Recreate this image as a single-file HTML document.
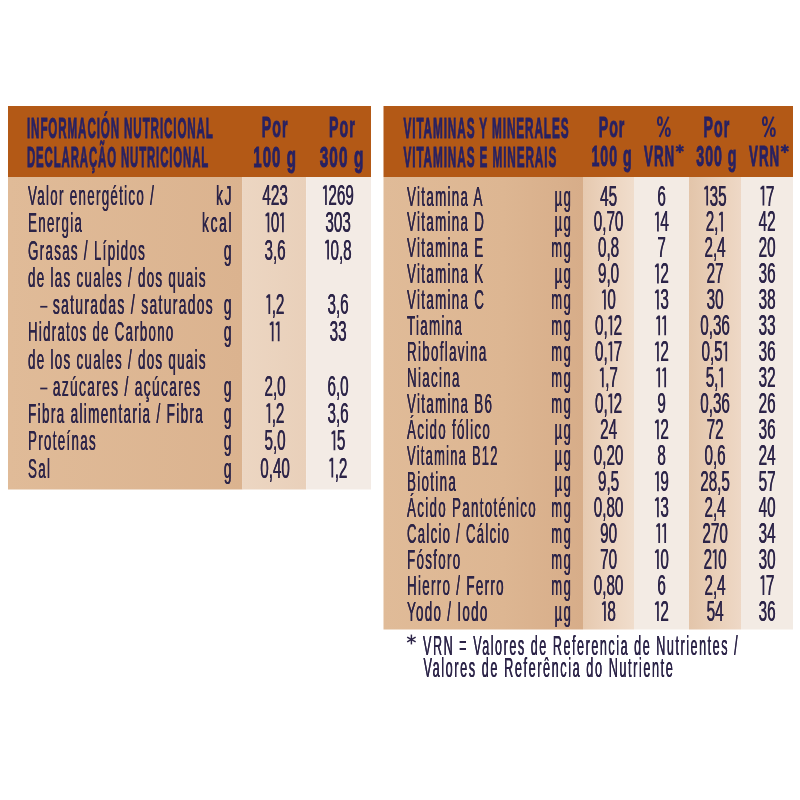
<!DOCTYPE html>
<html><head><meta charset="utf-8"><style>
html,body{margin:0;padding:0;background:#fff;width:800px;height:800px;overflow:hidden}
svg{display:block;will-change:transform}
text{font-family:"Liberation Sans",sans-serif}
</style></head><body>
<svg width="800" height="800" viewBox="0 0 800 800">
<defs>
<linearGradient id="labL" x1="0" y1="0" x2="1" y2="0"><stop offset="0" stop-color="rgb(224,187,152)"/><stop offset="1" stop-color="rgb(219,179,143)"/></linearGradient>
<linearGradient id="labR" x1="0" y1="0" x2="1" y2="0"><stop offset="0" stop-color="rgb(224,187,152)"/><stop offset="0.6" stop-color="rgb(221,182,146)"/><stop offset="1" stop-color="rgb(215,173,137)"/></linearGradient>
<linearGradient id="c1L" x1="0" y1="0" x2="1" y2="0"><stop offset="0" stop-color="rgb(236,214,194)"/><stop offset="1" stop-color="rgb(233,208,186)"/></linearGradient>
<linearGradient id="c1R" x1="0" y1="0" x2="1" y2="0"><stop offset="0" stop-color="rgb(230,201,175)"/><stop offset="0.5" stop-color="rgb(236,212,191)"/><stop offset="1" stop-color="rgb(240,221,204)"/></linearGradient>
<linearGradient id="c3R" x1="0" y1="0" x2="1" y2="0"><stop offset="0" stop-color="rgb(227,197,170)"/><stop offset="0.5" stop-color="rgb(233,207,184)"/><stop offset="1" stop-color="rgb(238,216,198)"/></linearGradient>
</defs>
<rect x="0" y="0" width="800" height="800" fill="#fff"/>
<rect x="8" y="106" width="363" height="71" fill="rgb(179,89,22)"/>
<rect x="8" y="177" width="234.5" height="312.5" fill="url(#labL)"/>
<rect x="242.5" y="177" width="63.75" height="312.5" fill="url(#c1L)"/>
<rect x="306.25" y="177" width="64.75" height="312.5" fill="rgb(243,235,229)"/>
<text transform="translate(27,138) scale(0.401,1)" text-anchor="start" font-size="29" font-weight="bold" fill="rgb(40,33,98)" stroke="rgb(40,33,98)" stroke-width="1.0" letter-spacing="2.2">INFORMACIÓN NUTRICIONAL</text>
<text transform="translate(27,167) scale(0.394,1)" text-anchor="start" font-size="29" font-weight="bold" fill="rgb(40,33,98)" stroke="rgb(40,33,98)" stroke-width="1.0" letter-spacing="2.2">DECLARAÇÃO NUTRICIONAL</text>
<text transform="translate(275.09,137) scale(0.49,1)" text-anchor="middle" font-size="29" font-weight="bold" fill="rgb(40,33,98)" stroke="rgb(40,33,98)" stroke-width="1.0" letter-spacing="2.0">Por</text>
<text transform="translate(275.12,166.5) scale(0.52,1)" text-anchor="middle" font-size="29" font-weight="bold" fill="rgb(40,33,98)" stroke="rgb(40,33,98)" stroke-width="1.0" letter-spacing="2.0">100 g</text>
<text transform="translate(342.39,137) scale(0.49,1)" text-anchor="middle" font-size="29" font-weight="bold" fill="rgb(40,33,98)" stroke="rgb(40,33,98)" stroke-width="1.0" letter-spacing="2.0">Por</text>
<text transform="translate(342.03,166.5) scale(0.53,1)" text-anchor="middle" font-size="29" font-weight="bold" fill="rgb(40,33,98)" stroke="rgb(40,33,98)" stroke-width="1.0" letter-spacing="2.0">300 g</text>
<text transform="translate(28,205.0) scale(0.485,1)" text-anchor="start" font-size="27.5" font-weight="normal" fill="rgb(44,36,72)" stroke="rgb(44,36,72)" stroke-width="0.15" letter-spacing="2.7">Valor energético /</text>
<text transform="translate(28.1,205.0) scale(0.485,1)" text-anchor="start" font-size="27.5" font-weight="normal" fill="rgb(44,36,72)" stroke="rgb(44,36,72)" stroke-width="0.15" letter-spacing="2.7">Valor energético /</text>
<text transform="translate(233.2,205.0) scale(0.5,1)" text-anchor="end" font-size="27.5" font-weight="normal" fill="rgb(44,36,72)" stroke="rgb(44,36,72)" stroke-width="0.15" letter-spacing="3.4">kJ</text>
<text transform="translate(233.3,205.0) scale(0.5,1)" text-anchor="end" font-size="27.5" font-weight="normal" fill="rgb(44,36,72)" stroke="rgb(44,36,72)" stroke-width="0.15" letter-spacing="3.4">kJ</text>
<text transform="translate(262.28,205.0) scale(0.522,1)" text-anchor="start" font-size="29.2" font-weight="normal" fill="rgb(44,36,72)" stroke="rgb(44,36,72)" stroke-width="0.12">423</text>
<text transform="translate(262.43,205.0) scale(0.522,1)" text-anchor="start" font-size="29.2" font-weight="normal" fill="rgb(44,36,72)" stroke="rgb(44,36,72)" stroke-width="0.12">423</text>
<polygon fill="rgb(44,36,72)" points="324.88,185.20 326.83,185.20 326.83,205.00 325.08,205.00 325.08,188.40 323.28,189.20 322.78,187.60"/>
<text transform="translate(328.28,205.0) scale(0.522,1)" text-anchor="start" font-size="29.2" font-weight="normal" fill="rgb(44,36,72)" stroke="rgb(44,36,72)" stroke-width="0.12">269</text>
<text transform="translate(328.43,205.0) scale(0.522,1)" text-anchor="start" font-size="29.2" font-weight="normal" fill="rgb(44,36,72)" stroke="rgb(44,36,72)" stroke-width="0.12">269</text>
<text transform="translate(28,232.25) scale(0.485,1)" text-anchor="start" font-size="27.5" font-weight="normal" fill="rgb(44,36,72)" stroke="rgb(44,36,72)" stroke-width="0.15" letter-spacing="2.7">Energia</text>
<text transform="translate(28.1,232.25) scale(0.485,1)" text-anchor="start" font-size="27.5" font-weight="normal" fill="rgb(44,36,72)" stroke="rgb(44,36,72)" stroke-width="0.15" letter-spacing="2.7">Energia</text>
<text transform="translate(233.2,232.25) scale(0.5,1)" text-anchor="end" font-size="27.5" font-weight="normal" fill="rgb(44,36,72)" stroke="rgb(44,36,72)" stroke-width="0.15" letter-spacing="3.4">kcal</text>
<text transform="translate(233.3,232.25) scale(0.5,1)" text-anchor="end" font-size="27.5" font-weight="normal" fill="rgb(44,36,72)" stroke="rgb(44,36,72)" stroke-width="0.15" letter-spacing="3.4">kcal</text>
<polygon fill="rgb(44,36,72)" points="267.36,212.45 269.31,212.45 269.31,232.25 267.56,232.25 267.56,215.65 265.76,216.45 265.26,214.85"/>
<text transform="translate(270.76,232.25) scale(0.522,1)" text-anchor="start" font-size="29.2" font-weight="normal" fill="rgb(44,36,72)" stroke="rgb(44,36,72)" stroke-width="0.12">0</text>
<text transform="translate(270.91,232.25) scale(0.522,1)" text-anchor="start" font-size="29.2" font-weight="normal" fill="rgb(44,36,72)" stroke="rgb(44,36,72)" stroke-width="0.12">0</text>
<polygon fill="rgb(44,36,72)" points="281.84,212.45 283.79,212.45 283.79,232.25 282.04,232.25 282.04,215.65 280.24,216.45 279.74,214.85"/>
<text transform="translate(325.28,232.25) scale(0.522,1)" text-anchor="start" font-size="29.2" font-weight="normal" fill="rgb(44,36,72)" stroke="rgb(44,36,72)" stroke-width="0.12">303</text>
<text transform="translate(325.43,232.25) scale(0.522,1)" text-anchor="start" font-size="29.2" font-weight="normal" fill="rgb(44,36,72)" stroke="rgb(44,36,72)" stroke-width="0.12">303</text>
<text transform="translate(28,259.5) scale(0.485,1)" text-anchor="start" font-size="27.5" font-weight="normal" fill="rgb(44,36,72)" stroke="rgb(44,36,72)" stroke-width="0.15" letter-spacing="2.7">Grasas / Lípidos</text>
<text transform="translate(28.1,259.5) scale(0.485,1)" text-anchor="start" font-size="27.5" font-weight="normal" fill="rgb(44,36,72)" stroke="rgb(44,36,72)" stroke-width="0.15" letter-spacing="2.7">Grasas / Lípidos</text>
<text transform="translate(233.2,259.5) scale(0.5,1)" text-anchor="end" font-size="27.5" font-weight="normal" fill="rgb(44,36,72)" stroke="rgb(44,36,72)" stroke-width="0.15" letter-spacing="3.4">g</text>
<text transform="translate(233.3,259.5) scale(0.5,1)" text-anchor="end" font-size="27.5" font-weight="normal" fill="rgb(44,36,72)" stroke="rgb(44,36,72)" stroke-width="0.15" letter-spacing="3.4">g</text>
<text transform="translate(264.41,259.5) scale(0.522,1)" text-anchor="start" font-size="29.2" font-weight="normal" fill="rgb(44,36,72)" stroke="rgb(44,36,72)" stroke-width="0.12">3,6</text>
<text transform="translate(264.56,259.5) scale(0.522,1)" text-anchor="start" font-size="29.2" font-weight="normal" fill="rgb(44,36,72)" stroke="rgb(44,36,72)" stroke-width="0.12">3,6</text>
<polygon fill="rgb(44,36,72)" points="327.01,239.70 328.96,239.70 328.96,259.50 327.21,259.50 327.21,242.90 325.41,243.70 324.91,242.10"/>
<text transform="translate(330.41,259.5) scale(0.522,1)" text-anchor="start" font-size="29.2" font-weight="normal" fill="rgb(44,36,72)" stroke="rgb(44,36,72)" stroke-width="0.12">0,8</text>
<text transform="translate(330.56,259.5) scale(0.522,1)" text-anchor="start" font-size="29.2" font-weight="normal" fill="rgb(44,36,72)" stroke="rgb(44,36,72)" stroke-width="0.12">0,8</text>
<text transform="translate(28,286.75) scale(0.485,1)" text-anchor="start" font-size="27.5" font-weight="normal" fill="rgb(44,36,72)" stroke="rgb(44,36,72)" stroke-width="0.15" letter-spacing="2.7">de las cuales / dos quais</text>
<text transform="translate(28.1,286.75) scale(0.485,1)" text-anchor="start" font-size="27.5" font-weight="normal" fill="rgb(44,36,72)" stroke="rgb(44,36,72)" stroke-width="0.15" letter-spacing="2.7">de las cuales / dos quais</text>
<rect x="40.2" y="305.90" width="7.2" height="1.7" fill="rgb(44,36,72)"/>
<text transform="translate(52.8,314.0) scale(0.502,1)" text-anchor="start" font-size="27.5" font-weight="normal" fill="rgb(44,36,72)" stroke="rgb(44,36,72)" stroke-width="0.15" letter-spacing="2.7">saturadas / saturados</text>
<text transform="translate(52.9,314.0) scale(0.502,1)" text-anchor="start" font-size="27.5" font-weight="normal" fill="rgb(44,36,72)" stroke="rgb(44,36,72)" stroke-width="0.15" letter-spacing="2.7">saturadas / saturados</text>
<text transform="translate(233.2,314.0) scale(0.5,1)" text-anchor="end" font-size="27.5" font-weight="normal" fill="rgb(44,36,72)" stroke="rgb(44,36,72)" stroke-width="0.15" letter-spacing="3.4">g</text>
<text transform="translate(233.3,314.0) scale(0.5,1)" text-anchor="end" font-size="27.5" font-weight="normal" fill="rgb(44,36,72)" stroke="rgb(44,36,72)" stroke-width="0.15" letter-spacing="3.4">g</text>
<polygon fill="rgb(44,36,72)" points="268.24,294.20 270.19,294.20 270.19,314.00 268.44,314.00 268.44,297.40 266.64,298.20 266.14,296.60"/>
<text transform="translate(271.64,314.0) scale(0.522,1)" text-anchor="start" font-size="29.2" font-weight="normal" fill="rgb(44,36,72)" stroke="rgb(44,36,72)" stroke-width="0.12">,2</text>
<text transform="translate(271.79,314.0) scale(0.522,1)" text-anchor="start" font-size="29.2" font-weight="normal" fill="rgb(44,36,72)" stroke="rgb(44,36,72)" stroke-width="0.12">,2</text>
<text transform="translate(327.41,314.0) scale(0.522,1)" text-anchor="start" font-size="29.2" font-weight="normal" fill="rgb(44,36,72)" stroke="rgb(44,36,72)" stroke-width="0.12">3,6</text>
<text transform="translate(327.56,314.0) scale(0.522,1)" text-anchor="start" font-size="29.2" font-weight="normal" fill="rgb(44,36,72)" stroke="rgb(44,36,72)" stroke-width="0.12">3,6</text>
<text transform="translate(28,341.25) scale(0.4801,1)" text-anchor="start" font-size="27.5" font-weight="normal" fill="rgb(44,36,72)" stroke="rgb(44,36,72)" stroke-width="0.15" letter-spacing="2.7">Hidratos de Carbono</text>
<text transform="translate(28.1,341.25) scale(0.4801,1)" text-anchor="start" font-size="27.5" font-weight="normal" fill="rgb(44,36,72)" stroke="rgb(44,36,72)" stroke-width="0.15" letter-spacing="2.7">Hidratos de Carbono</text>
<text transform="translate(233.2,341.25) scale(0.5,1)" text-anchor="end" font-size="27.5" font-weight="normal" fill="rgb(44,36,72)" stroke="rgb(44,36,72)" stroke-width="0.15" letter-spacing="3.4">g</text>
<text transform="translate(233.3,341.25) scale(0.5,1)" text-anchor="end" font-size="27.5" font-weight="normal" fill="rgb(44,36,72)" stroke="rgb(44,36,72)" stroke-width="0.15" letter-spacing="3.4">g</text>
<polygon fill="rgb(44,36,72)" points="271.60,321.45 273.55,321.45 273.55,341.25 271.80,341.25 271.80,324.65 270.00,325.45 269.50,323.85"/>
<polygon fill="rgb(44,36,72)" points="277.60,321.45 279.55,321.45 279.55,341.25 277.80,341.25 277.80,324.65 276.00,325.45 275.50,323.85"/>
<text transform="translate(329.52,341.25) scale(0.522,1)" text-anchor="start" font-size="29.2" font-weight="normal" fill="rgb(44,36,72)" stroke="rgb(44,36,72)" stroke-width="0.12">33</text>
<text transform="translate(329.67,341.25) scale(0.522,1)" text-anchor="start" font-size="29.2" font-weight="normal" fill="rgb(44,36,72)" stroke="rgb(44,36,72)" stroke-width="0.12">33</text>
<text transform="translate(28,368.5) scale(0.485,1)" text-anchor="start" font-size="27.5" font-weight="normal" fill="rgb(44,36,72)" stroke="rgb(44,36,72)" stroke-width="0.15" letter-spacing="2.7">de los cuales / dos quais</text>
<text transform="translate(28.1,368.5) scale(0.485,1)" text-anchor="start" font-size="27.5" font-weight="normal" fill="rgb(44,36,72)" stroke="rgb(44,36,72)" stroke-width="0.15" letter-spacing="2.7">de los cuales / dos quais</text>
<rect x="40.2" y="387.65" width="7.2" height="1.7" fill="rgb(44,36,72)"/>
<text transform="translate(52.8,395.75) scale(0.4995,1)" text-anchor="start" font-size="27.5" font-weight="normal" fill="rgb(44,36,72)" stroke="rgb(44,36,72)" stroke-width="0.15" letter-spacing="2.7">azúcares / açúcares</text>
<text transform="translate(52.9,395.75) scale(0.4995,1)" text-anchor="start" font-size="27.5" font-weight="normal" fill="rgb(44,36,72)" stroke="rgb(44,36,72)" stroke-width="0.15" letter-spacing="2.7">azúcares / açúcares</text>
<text transform="translate(233.2,395.75) scale(0.5,1)" text-anchor="end" font-size="27.5" font-weight="normal" fill="rgb(44,36,72)" stroke="rgb(44,36,72)" stroke-width="0.15" letter-spacing="3.4">g</text>
<text transform="translate(233.3,395.75) scale(0.5,1)" text-anchor="end" font-size="27.5" font-weight="normal" fill="rgb(44,36,72)" stroke="rgb(44,36,72)" stroke-width="0.15" letter-spacing="3.4">g</text>
<text transform="translate(264.41,395.75) scale(0.522,1)" text-anchor="start" font-size="29.2" font-weight="normal" fill="rgb(44,36,72)" stroke="rgb(44,36,72)" stroke-width="0.12">2,0</text>
<text transform="translate(264.56,395.75) scale(0.522,1)" text-anchor="start" font-size="29.2" font-weight="normal" fill="rgb(44,36,72)" stroke="rgb(44,36,72)" stroke-width="0.12">2,0</text>
<text transform="translate(327.41,395.75) scale(0.522,1)" text-anchor="start" font-size="29.2" font-weight="normal" fill="rgb(44,36,72)" stroke="rgb(44,36,72)" stroke-width="0.12">6,0</text>
<text transform="translate(327.56,395.75) scale(0.522,1)" text-anchor="start" font-size="29.2" font-weight="normal" fill="rgb(44,36,72)" stroke="rgb(44,36,72)" stroke-width="0.12">6,0</text>
<text transform="translate(28,423.0) scale(0.4923,1)" text-anchor="start" font-size="27.5" font-weight="normal" fill="rgb(44,36,72)" stroke="rgb(44,36,72)" stroke-width="0.15" letter-spacing="2.7">Fibra alimentaria / Fibra</text>
<text transform="translate(28.1,423.0) scale(0.4923,1)" text-anchor="start" font-size="27.5" font-weight="normal" fill="rgb(44,36,72)" stroke="rgb(44,36,72)" stroke-width="0.15" letter-spacing="2.7">Fibra alimentaria / Fibra</text>
<text transform="translate(233.2,423.0) scale(0.5,1)" text-anchor="end" font-size="27.5" font-weight="normal" fill="rgb(44,36,72)" stroke="rgb(44,36,72)" stroke-width="0.15" letter-spacing="3.4">g</text>
<text transform="translate(233.3,423.0) scale(0.5,1)" text-anchor="end" font-size="27.5" font-weight="normal" fill="rgb(44,36,72)" stroke="rgb(44,36,72)" stroke-width="0.15" letter-spacing="3.4">g</text>
<polygon fill="rgb(44,36,72)" points="268.24,403.20 270.19,403.20 270.19,423.00 268.44,423.00 268.44,406.40 266.64,407.20 266.14,405.60"/>
<text transform="translate(271.64,423.0) scale(0.522,1)" text-anchor="start" font-size="29.2" font-weight="normal" fill="rgb(44,36,72)" stroke="rgb(44,36,72)" stroke-width="0.12">,2</text>
<text transform="translate(271.79,423.0) scale(0.522,1)" text-anchor="start" font-size="29.2" font-weight="normal" fill="rgb(44,36,72)" stroke="rgb(44,36,72)" stroke-width="0.12">,2</text>
<text transform="translate(327.41,423.0) scale(0.522,1)" text-anchor="start" font-size="29.2" font-weight="normal" fill="rgb(44,36,72)" stroke="rgb(44,36,72)" stroke-width="0.12">3,6</text>
<text transform="translate(327.56,423.0) scale(0.522,1)" text-anchor="start" font-size="29.2" font-weight="normal" fill="rgb(44,36,72)" stroke="rgb(44,36,72)" stroke-width="0.12">3,6</text>
<text transform="translate(28,450.25) scale(0.485,1)" text-anchor="start" font-size="27.5" font-weight="normal" fill="rgb(44,36,72)" stroke="rgb(44,36,72)" stroke-width="0.15" letter-spacing="2.7">Proteínas</text>
<text transform="translate(28.1,450.25) scale(0.485,1)" text-anchor="start" font-size="27.5" font-weight="normal" fill="rgb(44,36,72)" stroke="rgb(44,36,72)" stroke-width="0.15" letter-spacing="2.7">Proteínas</text>
<text transform="translate(233.2,450.25) scale(0.5,1)" text-anchor="end" font-size="27.5" font-weight="normal" fill="rgb(44,36,72)" stroke="rgb(44,36,72)" stroke-width="0.15" letter-spacing="3.4">g</text>
<text transform="translate(233.3,450.25) scale(0.5,1)" text-anchor="end" font-size="27.5" font-weight="normal" fill="rgb(44,36,72)" stroke="rgb(44,36,72)" stroke-width="0.15" letter-spacing="3.4">g</text>
<text transform="translate(264.41,450.25) scale(0.522,1)" text-anchor="start" font-size="29.2" font-weight="normal" fill="rgb(44,36,72)" stroke="rgb(44,36,72)" stroke-width="0.12">5,0</text>
<text transform="translate(264.56,450.25) scale(0.522,1)" text-anchor="start" font-size="29.2" font-weight="normal" fill="rgb(44,36,72)" stroke="rgb(44,36,72)" stroke-width="0.12">5,0</text>
<polygon fill="rgb(44,36,72)" points="333.36,430.45 335.31,430.45 335.31,450.25 333.56,450.25 333.56,433.65 331.76,434.45 331.26,432.85"/>
<text transform="translate(336.76,450.25) scale(0.522,1)" text-anchor="start" font-size="29.2" font-weight="normal" fill="rgb(44,36,72)" stroke="rgb(44,36,72)" stroke-width="0.12">5</text>
<text transform="translate(336.91,450.25) scale(0.522,1)" text-anchor="start" font-size="29.2" font-weight="normal" fill="rgb(44,36,72)" stroke="rgb(44,36,72)" stroke-width="0.12">5</text>
<text transform="translate(28,477.5) scale(0.485,1)" text-anchor="start" font-size="27.5" font-weight="normal" fill="rgb(44,36,72)" stroke="rgb(44,36,72)" stroke-width="0.15" letter-spacing="2.7">Sal</text>
<text transform="translate(28.1,477.5) scale(0.485,1)" text-anchor="start" font-size="27.5" font-weight="normal" fill="rgb(44,36,72)" stroke="rgb(44,36,72)" stroke-width="0.15" letter-spacing="2.7">Sal</text>
<text transform="translate(233.2,477.5) scale(0.5,1)" text-anchor="end" font-size="27.5" font-weight="normal" fill="rgb(44,36,72)" stroke="rgb(44,36,72)" stroke-width="0.15" letter-spacing="3.4">g</text>
<text transform="translate(233.3,477.5) scale(0.5,1)" text-anchor="end" font-size="27.5" font-weight="normal" fill="rgb(44,36,72)" stroke="rgb(44,36,72)" stroke-width="0.15" letter-spacing="3.4">g</text>
<text transform="translate(260.17,477.5) scale(0.522,1)" text-anchor="start" font-size="29.2" font-weight="normal" fill="rgb(44,36,72)" stroke="rgb(44,36,72)" stroke-width="0.12">0,40</text>
<text transform="translate(260.32,477.5) scale(0.522,1)" text-anchor="start" font-size="29.2" font-weight="normal" fill="rgb(44,36,72)" stroke="rgb(44,36,72)" stroke-width="0.12">0,40</text>
<polygon fill="rgb(44,36,72)" points="331.24,457.70 333.19,457.70 333.19,477.50 331.44,477.50 331.44,460.90 329.64,461.70 329.14,460.10"/>
<text transform="translate(334.64,477.5) scale(0.522,1)" text-anchor="start" font-size="29.2" font-weight="normal" fill="rgb(44,36,72)" stroke="rgb(44,36,72)" stroke-width="0.12">,2</text>
<text transform="translate(334.79,477.5) scale(0.522,1)" text-anchor="start" font-size="29.2" font-weight="normal" fill="rgb(44,36,72)" stroke="rgb(44,36,72)" stroke-width="0.12">,2</text>
<rect x="383.5" y="106" width="409.5" height="71" fill="rgb(179,89,22)"/>
<rect x="383.5" y="177" width="199.5" height="452.5" fill="url(#labR)"/>
<rect x="583" y="177" width="51" height="452.5" fill="url(#c1R)"/>
<rect x="634" y="177" width="55" height="452.5" fill="rgb(243,235,228)"/>
<rect x="689" y="177" width="52" height="452.5" fill="url(#c3R)"/>
<rect x="741" y="177" width="52" height="452.5" fill="rgb(243,235,228)"/>
<text transform="translate(403.5,137.5) scale(0.406,1)" text-anchor="start" font-size="29" font-weight="bold" fill="rgb(40,33,98)" stroke="rgb(40,33,98)" stroke-width="1.0" letter-spacing="2.2">VITAMINAS Y MINERALES</text>
<text transform="translate(403.5,166.5) scale(0.406,1)" text-anchor="start" font-size="29" font-weight="bold" fill="rgb(40,33,98)" stroke="rgb(40,33,98)" stroke-width="1.0" letter-spacing="2.2">VITAMINAS E MINERAIS</text>
<text transform="translate(611.99,136.6) scale(0.49,1)" text-anchor="middle" font-size="29" font-weight="bold" fill="rgb(40,33,98)" stroke="rgb(40,33,98)" stroke-width="1.0" letter-spacing="2.0">Por</text>
<text transform="translate(611.99,165.8) scale(0.49,1)" text-anchor="middle" font-size="29" font-weight="bold" fill="rgb(40,33,98)" stroke="rgb(40,33,98)" stroke-width="1.0" letter-spacing="2.0">100 g</text>
<text transform="translate(716.89,136.6) scale(0.49,1)" text-anchor="middle" font-size="29" font-weight="bold" fill="rgb(40,33,98)" stroke="rgb(40,33,98)" stroke-width="1.0" letter-spacing="2.0">Por</text>
<text transform="translate(716.89,165.8) scale(0.49,1)" text-anchor="middle" font-size="29" font-weight="bold" fill="rgb(40,33,98)" stroke="rgb(40,33,98)" stroke-width="1.0" letter-spacing="2.0">300 g</text>
<g fill="none" stroke="rgb(40,33,98)" stroke-width="1.9"><ellipse cx="659.9" cy="121.2" rx="2.0" ry="3.9"/><ellipse cx="667.8" cy="132.2" rx="2.0" ry="3.9"/><line x1="668.6" y1="116.6" x2="659.6" y2="137.0"/></g>
<text transform="translate(644.0,165.8) scale(0.46,1)" text-anchor="start" font-size="29" font-weight="bold" fill="rgb(40,33,98)" stroke="rgb(40,33,98)" stroke-width="1.0" letter-spacing="2.2">VRN</text>
<g stroke="rgb(40,33,98)" stroke-width="2.1"><line x1="679.80" y1="144.50" x2="679.80" y2="153.10"/><line x1="676.08" y1="146.65" x2="683.52" y2="150.95"/><line x1="676.08" y1="150.95" x2="683.52" y2="146.65"/></g>
<g fill="none" stroke="rgb(40,33,98)" stroke-width="1.9"><ellipse cx="764.9" cy="121.2" rx="2.0" ry="3.9"/><ellipse cx="772.8" cy="132.2" rx="2.0" ry="3.9"/><line x1="773.6" y1="116.6" x2="764.6" y2="137.0"/></g>
<text transform="translate(749.0,165.8) scale(0.46,1)" text-anchor="start" font-size="29" font-weight="bold" fill="rgb(40,33,98)" stroke="rgb(40,33,98)" stroke-width="1.0" letter-spacing="2.2">VRN</text>
<g stroke="rgb(40,33,98)" stroke-width="2.1"><line x1="784.80" y1="144.50" x2="784.80" y2="153.10"/><line x1="781.08" y1="146.65" x2="788.52" y2="150.95"/><line x1="781.08" y1="150.95" x2="788.52" y2="146.65"/></g>
<text transform="translate(407,205.5) scale(0.486,1)" text-anchor="start" font-size="27.5" font-weight="normal" fill="rgb(44,36,72)" stroke="rgb(44,36,72)" stroke-width="0.15" letter-spacing="2.7">Vitamina A</text>
<text transform="translate(407.1,205.5) scale(0.486,1)" text-anchor="start" font-size="27.5" font-weight="normal" fill="rgb(44,36,72)" stroke="rgb(44,36,72)" stroke-width="0.15" letter-spacing="2.7">Vitamina A</text>
<text transform="translate(572.4,205.5) scale(0.47,1)" text-anchor="end" font-size="27.5" font-weight="normal" fill="rgb(44,36,72)" stroke="rgb(44,36,72)" stroke-width="0.15" letter-spacing="3.4">µg</text>
<text transform="translate(572.5,205.5) scale(0.47,1)" text-anchor="end" font-size="27.5" font-weight="normal" fill="rgb(44,36,72)" stroke="rgb(44,36,72)" stroke-width="0.15" letter-spacing="3.4">µg</text>
<text transform="translate(600.02,205.5) scale(0.522,1)" text-anchor="start" font-size="29.2" font-weight="normal" fill="rgb(44,36,72)" stroke="rgb(44,36,72)" stroke-width="0.12">45</text>
<text transform="translate(600.17,205.5) scale(0.522,1)" text-anchor="start" font-size="29.2" font-weight="normal" fill="rgb(44,36,72)" stroke="rgb(44,36,72)" stroke-width="0.12">45</text>
<text transform="translate(657.26,205.5) scale(0.522,1)" text-anchor="start" font-size="29.2" font-weight="normal" fill="rgb(44,36,72)" stroke="rgb(44,36,72)" stroke-width="0.12">6</text>
<text transform="translate(657.41,205.5) scale(0.522,1)" text-anchor="start" font-size="29.2" font-weight="normal" fill="rgb(44,36,72)" stroke="rgb(44,36,72)" stroke-width="0.12">6</text>
<polygon fill="rgb(44,36,72)" points="706.12,185.70 708.07,185.70 708.07,205.50 706.32,205.50 706.32,188.90 704.52,189.70 704.02,188.10"/>
<text transform="translate(709.52,205.5) scale(0.522,1)" text-anchor="start" font-size="29.2" font-weight="normal" fill="rgb(44,36,72)" stroke="rgb(44,36,72)" stroke-width="0.12">35</text>
<text transform="translate(709.67,205.5) scale(0.522,1)" text-anchor="start" font-size="29.2" font-weight="normal" fill="rgb(44,36,72)" stroke="rgb(44,36,72)" stroke-width="0.12">35</text>
<polygon fill="rgb(44,36,72)" points="762.36,185.70 764.31,185.70 764.31,205.50 762.56,205.50 762.56,188.90 760.76,189.70 760.26,188.10"/>
<text transform="translate(765.76,205.5) scale(0.522,1)" text-anchor="start" font-size="29.2" font-weight="normal" fill="rgb(44,36,72)" stroke="rgb(44,36,72)" stroke-width="0.12">7</text>
<text transform="translate(765.91,205.5) scale(0.522,1)" text-anchor="start" font-size="29.2" font-weight="normal" fill="rgb(44,36,72)" stroke="rgb(44,36,72)" stroke-width="0.12">7</text>
<text transform="translate(407,231.47) scale(0.486,1)" text-anchor="start" font-size="27.5" font-weight="normal" fill="rgb(44,36,72)" stroke="rgb(44,36,72)" stroke-width="0.15" letter-spacing="2.7">Vitamina D</text>
<text transform="translate(407.1,231.47) scale(0.486,1)" text-anchor="start" font-size="27.5" font-weight="normal" fill="rgb(44,36,72)" stroke="rgb(44,36,72)" stroke-width="0.15" letter-spacing="2.7">Vitamina D</text>
<text transform="translate(572.4,231.47) scale(0.47,1)" text-anchor="end" font-size="27.5" font-weight="normal" fill="rgb(44,36,72)" stroke="rgb(44,36,72)" stroke-width="0.15" letter-spacing="3.4">µg</text>
<text transform="translate(572.5,231.47) scale(0.47,1)" text-anchor="end" font-size="27.5" font-weight="normal" fill="rgb(44,36,72)" stroke="rgb(44,36,72)" stroke-width="0.15" letter-spacing="3.4">µg</text>
<text transform="translate(593.67,231.47) scale(0.522,1)" text-anchor="start" font-size="29.2" font-weight="normal" fill="rgb(44,36,72)" stroke="rgb(44,36,72)" stroke-width="0.12">0,70</text>
<text transform="translate(593.82,231.47) scale(0.522,1)" text-anchor="start" font-size="29.2" font-weight="normal" fill="rgb(44,36,72)" stroke="rgb(44,36,72)" stroke-width="0.12">0,70</text>
<polygon fill="rgb(44,36,72)" points="656.86,211.67 658.81,211.67 658.81,231.47 657.06,231.47 657.06,214.87 655.26,215.67 654.76,214.07"/>
<text transform="translate(660.26,231.47) scale(0.522,1)" text-anchor="start" font-size="29.2" font-weight="normal" fill="rgb(44,36,72)" stroke="rgb(44,36,72)" stroke-width="0.12">4</text>
<text transform="translate(660.41,231.47) scale(0.522,1)" text-anchor="start" font-size="29.2" font-weight="normal" fill="rgb(44,36,72)" stroke="rgb(44,36,72)" stroke-width="0.12">4</text>
<text transform="translate(705.64,231.47) scale(0.522,1)" text-anchor="start" font-size="29.2" font-weight="normal" fill="rgb(44,36,72)" stroke="rgb(44,36,72)" stroke-width="0.12">2,</text>
<text transform="translate(705.79,231.47) scale(0.522,1)" text-anchor="start" font-size="29.2" font-weight="normal" fill="rgb(44,36,72)" stroke="rgb(44,36,72)" stroke-width="0.12">2,</text>
<polygon fill="rgb(44,36,72)" points="720.96,211.67 722.91,211.67 722.91,231.47 721.16,231.47 721.16,214.87 719.36,215.67 718.86,214.07"/>
<text transform="translate(758.52,231.47) scale(0.522,1)" text-anchor="start" font-size="29.2" font-weight="normal" fill="rgb(44,36,72)" stroke="rgb(44,36,72)" stroke-width="0.12">42</text>
<text transform="translate(758.67,231.47) scale(0.522,1)" text-anchor="start" font-size="29.2" font-weight="normal" fill="rgb(44,36,72)" stroke="rgb(44,36,72)" stroke-width="0.12">42</text>
<text transform="translate(407,257.44) scale(0.486,1)" text-anchor="start" font-size="27.5" font-weight="normal" fill="rgb(44,36,72)" stroke="rgb(44,36,72)" stroke-width="0.15" letter-spacing="2.7">Vitamina E</text>
<text transform="translate(407.1,257.44) scale(0.486,1)" text-anchor="start" font-size="27.5" font-weight="normal" fill="rgb(44,36,72)" stroke="rgb(44,36,72)" stroke-width="0.15" letter-spacing="2.7">Vitamina E</text>
<text transform="translate(572.4,257.44) scale(0.47,1)" text-anchor="end" font-size="27.5" font-weight="normal" fill="rgb(44,36,72)" stroke="rgb(44,36,72)" stroke-width="0.15" letter-spacing="3.4">mg</text>
<text transform="translate(572.5,257.44) scale(0.47,1)" text-anchor="end" font-size="27.5" font-weight="normal" fill="rgb(44,36,72)" stroke="rgb(44,36,72)" stroke-width="0.15" letter-spacing="3.4">mg</text>
<text transform="translate(597.91,257.44) scale(0.522,1)" text-anchor="start" font-size="29.2" font-weight="normal" fill="rgb(44,36,72)" stroke="rgb(44,36,72)" stroke-width="0.12">0,8</text>
<text transform="translate(598.06,257.44) scale(0.522,1)" text-anchor="start" font-size="29.2" font-weight="normal" fill="rgb(44,36,72)" stroke="rgb(44,36,72)" stroke-width="0.12">0,8</text>
<text transform="translate(657.26,257.44) scale(0.522,1)" text-anchor="start" font-size="29.2" font-weight="normal" fill="rgb(44,36,72)" stroke="rgb(44,36,72)" stroke-width="0.12">7</text>
<text transform="translate(657.41,257.44) scale(0.522,1)" text-anchor="start" font-size="29.2" font-weight="normal" fill="rgb(44,36,72)" stroke="rgb(44,36,72)" stroke-width="0.12">7</text>
<text transform="translate(704.41,257.44) scale(0.522,1)" text-anchor="start" font-size="29.2" font-weight="normal" fill="rgb(44,36,72)" stroke="rgb(44,36,72)" stroke-width="0.12">2,4</text>
<text transform="translate(704.56,257.44) scale(0.522,1)" text-anchor="start" font-size="29.2" font-weight="normal" fill="rgb(44,36,72)" stroke="rgb(44,36,72)" stroke-width="0.12">2,4</text>
<text transform="translate(758.52,257.44) scale(0.522,1)" text-anchor="start" font-size="29.2" font-weight="normal" fill="rgb(44,36,72)" stroke="rgb(44,36,72)" stroke-width="0.12">20</text>
<text transform="translate(758.67,257.44) scale(0.522,1)" text-anchor="start" font-size="29.2" font-weight="normal" fill="rgb(44,36,72)" stroke="rgb(44,36,72)" stroke-width="0.12">20</text>
<text transform="translate(407,283.40999999999997) scale(0.486,1)" text-anchor="start" font-size="27.5" font-weight="normal" fill="rgb(44,36,72)" stroke="rgb(44,36,72)" stroke-width="0.15" letter-spacing="2.7">Vitamina K</text>
<text transform="translate(407.1,283.40999999999997) scale(0.486,1)" text-anchor="start" font-size="27.5" font-weight="normal" fill="rgb(44,36,72)" stroke="rgb(44,36,72)" stroke-width="0.15" letter-spacing="2.7">Vitamina K</text>
<text transform="translate(572.4,283.40999999999997) scale(0.47,1)" text-anchor="end" font-size="27.5" font-weight="normal" fill="rgb(44,36,72)" stroke="rgb(44,36,72)" stroke-width="0.15" letter-spacing="3.4">µg</text>
<text transform="translate(572.5,283.40999999999997) scale(0.47,1)" text-anchor="end" font-size="27.5" font-weight="normal" fill="rgb(44,36,72)" stroke="rgb(44,36,72)" stroke-width="0.15" letter-spacing="3.4">µg</text>
<text transform="translate(597.91,283.40999999999997) scale(0.522,1)" text-anchor="start" font-size="29.2" font-weight="normal" fill="rgb(44,36,72)" stroke="rgb(44,36,72)" stroke-width="0.12">9,0</text>
<text transform="translate(598.06,283.40999999999997) scale(0.522,1)" text-anchor="start" font-size="29.2" font-weight="normal" fill="rgb(44,36,72)" stroke="rgb(44,36,72)" stroke-width="0.12">9,0</text>
<polygon fill="rgb(44,36,72)" points="656.86,263.61 658.81,263.61 658.81,283.41 657.06,283.41 657.06,266.81 655.26,267.61 654.76,266.01"/>
<text transform="translate(660.26,283.40999999999997) scale(0.522,1)" text-anchor="start" font-size="29.2" font-weight="normal" fill="rgb(44,36,72)" stroke="rgb(44,36,72)" stroke-width="0.12">2</text>
<text transform="translate(660.41,283.40999999999997) scale(0.522,1)" text-anchor="start" font-size="29.2" font-weight="normal" fill="rgb(44,36,72)" stroke="rgb(44,36,72)" stroke-width="0.12">2</text>
<text transform="translate(706.52,283.40999999999997) scale(0.522,1)" text-anchor="start" font-size="29.2" font-weight="normal" fill="rgb(44,36,72)" stroke="rgb(44,36,72)" stroke-width="0.12">27</text>
<text transform="translate(706.67,283.40999999999997) scale(0.522,1)" text-anchor="start" font-size="29.2" font-weight="normal" fill="rgb(44,36,72)" stroke="rgb(44,36,72)" stroke-width="0.12">27</text>
<text transform="translate(758.52,283.40999999999997) scale(0.522,1)" text-anchor="start" font-size="29.2" font-weight="normal" fill="rgb(44,36,72)" stroke="rgb(44,36,72)" stroke-width="0.12">36</text>
<text transform="translate(758.67,283.40999999999997) scale(0.522,1)" text-anchor="start" font-size="29.2" font-weight="normal" fill="rgb(44,36,72)" stroke="rgb(44,36,72)" stroke-width="0.12">36</text>
<text transform="translate(407,309.38) scale(0.486,1)" text-anchor="start" font-size="27.5" font-weight="normal" fill="rgb(44,36,72)" stroke="rgb(44,36,72)" stroke-width="0.15" letter-spacing="2.7">Vitamina C</text>
<text transform="translate(407.1,309.38) scale(0.486,1)" text-anchor="start" font-size="27.5" font-weight="normal" fill="rgb(44,36,72)" stroke="rgb(44,36,72)" stroke-width="0.15" letter-spacing="2.7">Vitamina C</text>
<text transform="translate(572.4,309.38) scale(0.47,1)" text-anchor="end" font-size="27.5" font-weight="normal" fill="rgb(44,36,72)" stroke="rgb(44,36,72)" stroke-width="0.15" letter-spacing="3.4">mg</text>
<text transform="translate(572.5,309.38) scale(0.47,1)" text-anchor="end" font-size="27.5" font-weight="normal" fill="rgb(44,36,72)" stroke="rgb(44,36,72)" stroke-width="0.15" letter-spacing="3.4">mg</text>
<polygon fill="rgb(44,36,72)" points="603.86,289.58 605.81,289.58 605.81,309.38 604.06,309.38 604.06,292.78 602.26,293.58 601.76,291.98"/>
<text transform="translate(607.26,309.38) scale(0.522,1)" text-anchor="start" font-size="29.2" font-weight="normal" fill="rgb(44,36,72)" stroke="rgb(44,36,72)" stroke-width="0.12">0</text>
<text transform="translate(607.41,309.38) scale(0.522,1)" text-anchor="start" font-size="29.2" font-weight="normal" fill="rgb(44,36,72)" stroke="rgb(44,36,72)" stroke-width="0.12">0</text>
<polygon fill="rgb(44,36,72)" points="656.86,289.58 658.81,289.58 658.81,309.38 657.06,309.38 657.06,292.78 655.26,293.58 654.76,291.98"/>
<text transform="translate(660.26,309.38) scale(0.522,1)" text-anchor="start" font-size="29.2" font-weight="normal" fill="rgb(44,36,72)" stroke="rgb(44,36,72)" stroke-width="0.12">3</text>
<text transform="translate(660.41,309.38) scale(0.522,1)" text-anchor="start" font-size="29.2" font-weight="normal" fill="rgb(44,36,72)" stroke="rgb(44,36,72)" stroke-width="0.12">3</text>
<text transform="translate(706.52,309.38) scale(0.522,1)" text-anchor="start" font-size="29.2" font-weight="normal" fill="rgb(44,36,72)" stroke="rgb(44,36,72)" stroke-width="0.12">30</text>
<text transform="translate(706.67,309.38) scale(0.522,1)" text-anchor="start" font-size="29.2" font-weight="normal" fill="rgb(44,36,72)" stroke="rgb(44,36,72)" stroke-width="0.12">30</text>
<text transform="translate(758.52,309.38) scale(0.522,1)" text-anchor="start" font-size="29.2" font-weight="normal" fill="rgb(44,36,72)" stroke="rgb(44,36,72)" stroke-width="0.12">38</text>
<text transform="translate(758.67,309.38) scale(0.522,1)" text-anchor="start" font-size="29.2" font-weight="normal" fill="rgb(44,36,72)" stroke="rgb(44,36,72)" stroke-width="0.12">38</text>
<text transform="translate(407,335.35) scale(0.486,1)" text-anchor="start" font-size="27.5" font-weight="normal" fill="rgb(44,36,72)" stroke="rgb(44,36,72)" stroke-width="0.15" letter-spacing="2.7">Tiamina</text>
<text transform="translate(407.1,335.35) scale(0.486,1)" text-anchor="start" font-size="27.5" font-weight="normal" fill="rgb(44,36,72)" stroke="rgb(44,36,72)" stroke-width="0.15" letter-spacing="2.7">Tiamina</text>
<text transform="translate(572.4,335.35) scale(0.47,1)" text-anchor="end" font-size="27.5" font-weight="normal" fill="rgb(44,36,72)" stroke="rgb(44,36,72)" stroke-width="0.15" letter-spacing="3.4">mg</text>
<text transform="translate(572.5,335.35) scale(0.47,1)" text-anchor="end" font-size="27.5" font-weight="normal" fill="rgb(44,36,72)" stroke="rgb(44,36,72)" stroke-width="0.15" letter-spacing="3.4">mg</text>
<text transform="translate(594.91,335.35) scale(0.522,1)" text-anchor="start" font-size="29.2" font-weight="normal" fill="rgb(44,36,72)" stroke="rgb(44,36,72)" stroke-width="0.12">0,</text>
<text transform="translate(595.06,335.35) scale(0.522,1)" text-anchor="start" font-size="29.2" font-weight="normal" fill="rgb(44,36,72)" stroke="rgb(44,36,72)" stroke-width="0.12">0,</text>
<polygon fill="rgb(44,36,72)" points="610.22,315.55 612.17,315.55 612.17,335.35 610.42,335.35 610.42,318.75 608.62,319.55 608.12,317.95"/>
<text transform="translate(613.62,335.35) scale(0.522,1)" text-anchor="start" font-size="29.2" font-weight="normal" fill="rgb(44,36,72)" stroke="rgb(44,36,72)" stroke-width="0.12">2</text>
<text transform="translate(613.77,335.35) scale(0.522,1)" text-anchor="start" font-size="29.2" font-weight="normal" fill="rgb(44,36,72)" stroke="rgb(44,36,72)" stroke-width="0.12">2</text>
<polygon fill="rgb(44,36,72)" points="658.10,315.55 660.05,315.55 660.05,335.35 658.30,335.35 658.30,318.75 656.50,319.55 656.00,317.95"/>
<polygon fill="rgb(44,36,72)" points="664.10,315.55 666.05,315.55 666.05,335.35 664.30,335.35 664.30,318.75 662.50,319.55 662.00,317.95"/>
<text transform="translate(700.17,335.35) scale(0.522,1)" text-anchor="start" font-size="29.2" font-weight="normal" fill="rgb(44,36,72)" stroke="rgb(44,36,72)" stroke-width="0.12">0,36</text>
<text transform="translate(700.32,335.35) scale(0.522,1)" text-anchor="start" font-size="29.2" font-weight="normal" fill="rgb(44,36,72)" stroke="rgb(44,36,72)" stroke-width="0.12">0,36</text>
<text transform="translate(758.52,335.35) scale(0.522,1)" text-anchor="start" font-size="29.2" font-weight="normal" fill="rgb(44,36,72)" stroke="rgb(44,36,72)" stroke-width="0.12">33</text>
<text transform="translate(758.67,335.35) scale(0.522,1)" text-anchor="start" font-size="29.2" font-weight="normal" fill="rgb(44,36,72)" stroke="rgb(44,36,72)" stroke-width="0.12">33</text>
<text transform="translate(407,361.32) scale(0.486,1)" text-anchor="start" font-size="27.5" font-weight="normal" fill="rgb(44,36,72)" stroke="rgb(44,36,72)" stroke-width="0.15" letter-spacing="2.7">Riboflavina</text>
<text transform="translate(407.1,361.32) scale(0.486,1)" text-anchor="start" font-size="27.5" font-weight="normal" fill="rgb(44,36,72)" stroke="rgb(44,36,72)" stroke-width="0.15" letter-spacing="2.7">Riboflavina</text>
<text transform="translate(572.4,361.32) scale(0.47,1)" text-anchor="end" font-size="27.5" font-weight="normal" fill="rgb(44,36,72)" stroke="rgb(44,36,72)" stroke-width="0.15" letter-spacing="3.4">mg</text>
<text transform="translate(572.5,361.32) scale(0.47,1)" text-anchor="end" font-size="27.5" font-weight="normal" fill="rgb(44,36,72)" stroke="rgb(44,36,72)" stroke-width="0.15" letter-spacing="3.4">mg</text>
<text transform="translate(594.91,361.32) scale(0.522,1)" text-anchor="start" font-size="29.2" font-weight="normal" fill="rgb(44,36,72)" stroke="rgb(44,36,72)" stroke-width="0.12">0,</text>
<text transform="translate(595.06,361.32) scale(0.522,1)" text-anchor="start" font-size="29.2" font-weight="normal" fill="rgb(44,36,72)" stroke="rgb(44,36,72)" stroke-width="0.12">0,</text>
<polygon fill="rgb(44,36,72)" points="610.22,341.52 612.17,341.52 612.17,361.32 610.42,361.32 610.42,344.72 608.62,345.52 608.12,343.92"/>
<text transform="translate(613.62,361.32) scale(0.522,1)" text-anchor="start" font-size="29.2" font-weight="normal" fill="rgb(44,36,72)" stroke="rgb(44,36,72)" stroke-width="0.12">7</text>
<text transform="translate(613.77,361.32) scale(0.522,1)" text-anchor="start" font-size="29.2" font-weight="normal" fill="rgb(44,36,72)" stroke="rgb(44,36,72)" stroke-width="0.12">7</text>
<polygon fill="rgb(44,36,72)" points="656.86,341.52 658.81,341.52 658.81,361.32 657.06,361.32 657.06,344.72 655.26,345.52 654.76,343.92"/>
<text transform="translate(660.26,361.32) scale(0.522,1)" text-anchor="start" font-size="29.2" font-weight="normal" fill="rgb(44,36,72)" stroke="rgb(44,36,72)" stroke-width="0.12">2</text>
<text transform="translate(660.41,361.32) scale(0.522,1)" text-anchor="start" font-size="29.2" font-weight="normal" fill="rgb(44,36,72)" stroke="rgb(44,36,72)" stroke-width="0.12">2</text>
<text transform="translate(701.41,361.32) scale(0.522,1)" text-anchor="start" font-size="29.2" font-weight="normal" fill="rgb(44,36,72)" stroke="rgb(44,36,72)" stroke-width="0.12">0,5</text>
<text transform="translate(701.56,361.32) scale(0.522,1)" text-anchor="start" font-size="29.2" font-weight="normal" fill="rgb(44,36,72)" stroke="rgb(44,36,72)" stroke-width="0.12">0,5</text>
<polygon fill="rgb(44,36,72)" points="725.19,341.52 727.14,341.52 727.14,361.32 725.39,361.32 725.39,344.72 723.59,345.52 723.09,343.92"/>
<text transform="translate(758.52,361.32) scale(0.522,1)" text-anchor="start" font-size="29.2" font-weight="normal" fill="rgb(44,36,72)" stroke="rgb(44,36,72)" stroke-width="0.12">36</text>
<text transform="translate(758.67,361.32) scale(0.522,1)" text-anchor="start" font-size="29.2" font-weight="normal" fill="rgb(44,36,72)" stroke="rgb(44,36,72)" stroke-width="0.12">36</text>
<text transform="translate(407,387.28999999999996) scale(0.486,1)" text-anchor="start" font-size="27.5" font-weight="normal" fill="rgb(44,36,72)" stroke="rgb(44,36,72)" stroke-width="0.15" letter-spacing="2.7">Niacina</text>
<text transform="translate(407.1,387.28999999999996) scale(0.486,1)" text-anchor="start" font-size="27.5" font-weight="normal" fill="rgb(44,36,72)" stroke="rgb(44,36,72)" stroke-width="0.15" letter-spacing="2.7">Niacina</text>
<text transform="translate(572.4,387.28999999999996) scale(0.47,1)" text-anchor="end" font-size="27.5" font-weight="normal" fill="rgb(44,36,72)" stroke="rgb(44,36,72)" stroke-width="0.15" letter-spacing="3.4">mg</text>
<text transform="translate(572.5,387.28999999999996) scale(0.47,1)" text-anchor="end" font-size="27.5" font-weight="normal" fill="rgb(44,36,72)" stroke="rgb(44,36,72)" stroke-width="0.15" letter-spacing="3.4">mg</text>
<polygon fill="rgb(44,36,72)" points="601.74,367.49 603.69,367.49 603.69,387.29 601.94,387.29 601.94,370.69 600.14,371.49 599.64,369.89"/>
<text transform="translate(605.14,387.28999999999996) scale(0.522,1)" text-anchor="start" font-size="29.2" font-weight="normal" fill="rgb(44,36,72)" stroke="rgb(44,36,72)" stroke-width="0.12">,7</text>
<text transform="translate(605.29,387.28999999999996) scale(0.522,1)" text-anchor="start" font-size="29.2" font-weight="normal" fill="rgb(44,36,72)" stroke="rgb(44,36,72)" stroke-width="0.12">,7</text>
<polygon fill="rgb(44,36,72)" points="658.10,367.49 660.05,367.49 660.05,387.29 658.30,387.29 658.30,370.69 656.50,371.49 656.00,369.89"/>
<polygon fill="rgb(44,36,72)" points="664.10,367.49 666.05,367.49 666.05,387.29 664.30,387.29 664.30,370.69 662.50,371.49 662.00,369.89"/>
<text transform="translate(705.64,387.28999999999996) scale(0.522,1)" text-anchor="start" font-size="29.2" font-weight="normal" fill="rgb(44,36,72)" stroke="rgb(44,36,72)" stroke-width="0.12">5,</text>
<text transform="translate(705.79,387.28999999999996) scale(0.522,1)" text-anchor="start" font-size="29.2" font-weight="normal" fill="rgb(44,36,72)" stroke="rgb(44,36,72)" stroke-width="0.12">5,</text>
<polygon fill="rgb(44,36,72)" points="720.96,367.49 722.91,367.49 722.91,387.29 721.16,387.29 721.16,370.69 719.36,371.49 718.86,369.89"/>
<text transform="translate(758.52,387.28999999999996) scale(0.522,1)" text-anchor="start" font-size="29.2" font-weight="normal" fill="rgb(44,36,72)" stroke="rgb(44,36,72)" stroke-width="0.12">32</text>
<text transform="translate(758.67,387.28999999999996) scale(0.522,1)" text-anchor="start" font-size="29.2" font-weight="normal" fill="rgb(44,36,72)" stroke="rgb(44,36,72)" stroke-width="0.12">32</text>
<text transform="translate(407,413.26) scale(0.486,1)" text-anchor="start" font-size="27.5" font-weight="normal" fill="rgb(44,36,72)" stroke="rgb(44,36,72)" stroke-width="0.15" letter-spacing="2.7">Vitamina B6</text>
<text transform="translate(407.1,413.26) scale(0.486,1)" text-anchor="start" font-size="27.5" font-weight="normal" fill="rgb(44,36,72)" stroke="rgb(44,36,72)" stroke-width="0.15" letter-spacing="2.7">Vitamina B6</text>
<text transform="translate(572.4,413.26) scale(0.47,1)" text-anchor="end" font-size="27.5" font-weight="normal" fill="rgb(44,36,72)" stroke="rgb(44,36,72)" stroke-width="0.15" letter-spacing="3.4">mg</text>
<text transform="translate(572.5,413.26) scale(0.47,1)" text-anchor="end" font-size="27.5" font-weight="normal" fill="rgb(44,36,72)" stroke="rgb(44,36,72)" stroke-width="0.15" letter-spacing="3.4">mg</text>
<text transform="translate(594.91,413.26) scale(0.522,1)" text-anchor="start" font-size="29.2" font-weight="normal" fill="rgb(44,36,72)" stroke="rgb(44,36,72)" stroke-width="0.12">0,</text>
<text transform="translate(595.06,413.26) scale(0.522,1)" text-anchor="start" font-size="29.2" font-weight="normal" fill="rgb(44,36,72)" stroke="rgb(44,36,72)" stroke-width="0.12">0,</text>
<polygon fill="rgb(44,36,72)" points="610.22,393.46 612.17,393.46 612.17,413.26 610.42,413.26 610.42,396.66 608.62,397.46 608.12,395.86"/>
<text transform="translate(613.62,413.26) scale(0.522,1)" text-anchor="start" font-size="29.2" font-weight="normal" fill="rgb(44,36,72)" stroke="rgb(44,36,72)" stroke-width="0.12">2</text>
<text transform="translate(613.77,413.26) scale(0.522,1)" text-anchor="start" font-size="29.2" font-weight="normal" fill="rgb(44,36,72)" stroke="rgb(44,36,72)" stroke-width="0.12">2</text>
<text transform="translate(657.26,413.26) scale(0.522,1)" text-anchor="start" font-size="29.2" font-weight="normal" fill="rgb(44,36,72)" stroke="rgb(44,36,72)" stroke-width="0.12">9</text>
<text transform="translate(657.41,413.26) scale(0.522,1)" text-anchor="start" font-size="29.2" font-weight="normal" fill="rgb(44,36,72)" stroke="rgb(44,36,72)" stroke-width="0.12">9</text>
<text transform="translate(700.17,413.26) scale(0.522,1)" text-anchor="start" font-size="29.2" font-weight="normal" fill="rgb(44,36,72)" stroke="rgb(44,36,72)" stroke-width="0.12">0,36</text>
<text transform="translate(700.32,413.26) scale(0.522,1)" text-anchor="start" font-size="29.2" font-weight="normal" fill="rgb(44,36,72)" stroke="rgb(44,36,72)" stroke-width="0.12">0,36</text>
<text transform="translate(758.52,413.26) scale(0.522,1)" text-anchor="start" font-size="29.2" font-weight="normal" fill="rgb(44,36,72)" stroke="rgb(44,36,72)" stroke-width="0.12">26</text>
<text transform="translate(758.67,413.26) scale(0.522,1)" text-anchor="start" font-size="29.2" font-weight="normal" fill="rgb(44,36,72)" stroke="rgb(44,36,72)" stroke-width="0.12">26</text>
<text transform="translate(407,439.23) scale(0.486,1)" text-anchor="start" font-size="27.5" font-weight="normal" fill="rgb(44,36,72)" stroke="rgb(44,36,72)" stroke-width="0.15" letter-spacing="2.7">Ácido fólico</text>
<text transform="translate(407.1,439.23) scale(0.486,1)" text-anchor="start" font-size="27.5" font-weight="normal" fill="rgb(44,36,72)" stroke="rgb(44,36,72)" stroke-width="0.15" letter-spacing="2.7">Ácido fólico</text>
<text transform="translate(572.4,439.23) scale(0.47,1)" text-anchor="end" font-size="27.5" font-weight="normal" fill="rgb(44,36,72)" stroke="rgb(44,36,72)" stroke-width="0.15" letter-spacing="3.4">µg</text>
<text transform="translate(572.5,439.23) scale(0.47,1)" text-anchor="end" font-size="27.5" font-weight="normal" fill="rgb(44,36,72)" stroke="rgb(44,36,72)" stroke-width="0.15" letter-spacing="3.4">µg</text>
<text transform="translate(600.02,439.23) scale(0.522,1)" text-anchor="start" font-size="29.2" font-weight="normal" fill="rgb(44,36,72)" stroke="rgb(44,36,72)" stroke-width="0.12">24</text>
<text transform="translate(600.17,439.23) scale(0.522,1)" text-anchor="start" font-size="29.2" font-weight="normal" fill="rgb(44,36,72)" stroke="rgb(44,36,72)" stroke-width="0.12">24</text>
<polygon fill="rgb(44,36,72)" points="656.86,419.43 658.81,419.43 658.81,439.23 657.06,439.23 657.06,422.63 655.26,423.43 654.76,421.83"/>
<text transform="translate(660.26,439.23) scale(0.522,1)" text-anchor="start" font-size="29.2" font-weight="normal" fill="rgb(44,36,72)" stroke="rgb(44,36,72)" stroke-width="0.12">2</text>
<text transform="translate(660.41,439.23) scale(0.522,1)" text-anchor="start" font-size="29.2" font-weight="normal" fill="rgb(44,36,72)" stroke="rgb(44,36,72)" stroke-width="0.12">2</text>
<text transform="translate(706.52,439.23) scale(0.522,1)" text-anchor="start" font-size="29.2" font-weight="normal" fill="rgb(44,36,72)" stroke="rgb(44,36,72)" stroke-width="0.12">72</text>
<text transform="translate(706.67,439.23) scale(0.522,1)" text-anchor="start" font-size="29.2" font-weight="normal" fill="rgb(44,36,72)" stroke="rgb(44,36,72)" stroke-width="0.12">72</text>
<text transform="translate(758.52,439.23) scale(0.522,1)" text-anchor="start" font-size="29.2" font-weight="normal" fill="rgb(44,36,72)" stroke="rgb(44,36,72)" stroke-width="0.12">36</text>
<text transform="translate(758.67,439.23) scale(0.522,1)" text-anchor="start" font-size="29.2" font-weight="normal" fill="rgb(44,36,72)" stroke="rgb(44,36,72)" stroke-width="0.12">36</text>
<text transform="translate(407,465.2) scale(0.469,1)" text-anchor="start" font-size="27.5" font-weight="normal" fill="rgb(44,36,72)" stroke="rgb(44,36,72)" stroke-width="0.15" letter-spacing="2.7">Vitamina B12</text>
<text transform="translate(407.1,465.2) scale(0.469,1)" text-anchor="start" font-size="27.5" font-weight="normal" fill="rgb(44,36,72)" stroke="rgb(44,36,72)" stroke-width="0.15" letter-spacing="2.7">Vitamina B12</text>
<text transform="translate(572.4,465.2) scale(0.47,1)" text-anchor="end" font-size="27.5" font-weight="normal" fill="rgb(44,36,72)" stroke="rgb(44,36,72)" stroke-width="0.15" letter-spacing="3.4">µg</text>
<text transform="translate(572.5,465.2) scale(0.47,1)" text-anchor="end" font-size="27.5" font-weight="normal" fill="rgb(44,36,72)" stroke="rgb(44,36,72)" stroke-width="0.15" letter-spacing="3.4">µg</text>
<text transform="translate(593.67,465.2) scale(0.522,1)" text-anchor="start" font-size="29.2" font-weight="normal" fill="rgb(44,36,72)" stroke="rgb(44,36,72)" stroke-width="0.12">0,20</text>
<text transform="translate(593.82,465.2) scale(0.522,1)" text-anchor="start" font-size="29.2" font-weight="normal" fill="rgb(44,36,72)" stroke="rgb(44,36,72)" stroke-width="0.12">0,20</text>
<text transform="translate(657.26,465.2) scale(0.522,1)" text-anchor="start" font-size="29.2" font-weight="normal" fill="rgb(44,36,72)" stroke="rgb(44,36,72)" stroke-width="0.12">8</text>
<text transform="translate(657.41,465.2) scale(0.522,1)" text-anchor="start" font-size="29.2" font-weight="normal" fill="rgb(44,36,72)" stroke="rgb(44,36,72)" stroke-width="0.12">8</text>
<text transform="translate(704.41,465.2) scale(0.522,1)" text-anchor="start" font-size="29.2" font-weight="normal" fill="rgb(44,36,72)" stroke="rgb(44,36,72)" stroke-width="0.12">0,6</text>
<text transform="translate(704.56,465.2) scale(0.522,1)" text-anchor="start" font-size="29.2" font-weight="normal" fill="rgb(44,36,72)" stroke="rgb(44,36,72)" stroke-width="0.12">0,6</text>
<text transform="translate(758.52,465.2) scale(0.522,1)" text-anchor="start" font-size="29.2" font-weight="normal" fill="rgb(44,36,72)" stroke="rgb(44,36,72)" stroke-width="0.12">24</text>
<text transform="translate(758.67,465.2) scale(0.522,1)" text-anchor="start" font-size="29.2" font-weight="normal" fill="rgb(44,36,72)" stroke="rgb(44,36,72)" stroke-width="0.12">24</text>
<text transform="translate(407,491.16999999999996) scale(0.486,1)" text-anchor="start" font-size="27.5" font-weight="normal" fill="rgb(44,36,72)" stroke="rgb(44,36,72)" stroke-width="0.15" letter-spacing="2.7">Biotina</text>
<text transform="translate(407.1,491.16999999999996) scale(0.486,1)" text-anchor="start" font-size="27.5" font-weight="normal" fill="rgb(44,36,72)" stroke="rgb(44,36,72)" stroke-width="0.15" letter-spacing="2.7">Biotina</text>
<text transform="translate(572.4,491.16999999999996) scale(0.47,1)" text-anchor="end" font-size="27.5" font-weight="normal" fill="rgb(44,36,72)" stroke="rgb(44,36,72)" stroke-width="0.15" letter-spacing="3.4">µg</text>
<text transform="translate(572.5,491.16999999999996) scale(0.47,1)" text-anchor="end" font-size="27.5" font-weight="normal" fill="rgb(44,36,72)" stroke="rgb(44,36,72)" stroke-width="0.15" letter-spacing="3.4">µg</text>
<text transform="translate(597.91,491.16999999999996) scale(0.522,1)" text-anchor="start" font-size="29.2" font-weight="normal" fill="rgb(44,36,72)" stroke="rgb(44,36,72)" stroke-width="0.12">9,5</text>
<text transform="translate(598.06,491.16999999999996) scale(0.522,1)" text-anchor="start" font-size="29.2" font-weight="normal" fill="rgb(44,36,72)" stroke="rgb(44,36,72)" stroke-width="0.12">9,5</text>
<polygon fill="rgb(44,36,72)" points="656.86,471.37 658.81,471.37 658.81,491.17 657.06,491.17 657.06,474.57 655.26,475.37 654.76,473.77"/>
<text transform="translate(660.26,491.16999999999996) scale(0.522,1)" text-anchor="start" font-size="29.2" font-weight="normal" fill="rgb(44,36,72)" stroke="rgb(44,36,72)" stroke-width="0.12">9</text>
<text transform="translate(660.41,491.16999999999996) scale(0.522,1)" text-anchor="start" font-size="29.2" font-weight="normal" fill="rgb(44,36,72)" stroke="rgb(44,36,72)" stroke-width="0.12">9</text>
<text transform="translate(700.17,491.16999999999996) scale(0.522,1)" text-anchor="start" font-size="29.2" font-weight="normal" fill="rgb(44,36,72)" stroke="rgb(44,36,72)" stroke-width="0.12">28,5</text>
<text transform="translate(700.32,491.16999999999996) scale(0.522,1)" text-anchor="start" font-size="29.2" font-weight="normal" fill="rgb(44,36,72)" stroke="rgb(44,36,72)" stroke-width="0.12">28,5</text>
<text transform="translate(758.52,491.16999999999996) scale(0.522,1)" text-anchor="start" font-size="29.2" font-weight="normal" fill="rgb(44,36,72)" stroke="rgb(44,36,72)" stroke-width="0.12">57</text>
<text transform="translate(758.67,491.16999999999996) scale(0.522,1)" text-anchor="start" font-size="29.2" font-weight="normal" fill="rgb(44,36,72)" stroke="rgb(44,36,72)" stroke-width="0.12">57</text>
<text transform="translate(407,517.14) scale(0.486,1)" text-anchor="start" font-size="27.5" font-weight="normal" fill="rgb(44,36,72)" stroke="rgb(44,36,72)" stroke-width="0.15" letter-spacing="2.7">Ácido Pantoténico</text>
<text transform="translate(407.1,517.14) scale(0.486,1)" text-anchor="start" font-size="27.5" font-weight="normal" fill="rgb(44,36,72)" stroke="rgb(44,36,72)" stroke-width="0.15" letter-spacing="2.7">Ácido Pantoténico</text>
<text transform="translate(572.4,517.14) scale(0.47,1)" text-anchor="end" font-size="27.5" font-weight="normal" fill="rgb(44,36,72)" stroke="rgb(44,36,72)" stroke-width="0.15" letter-spacing="3.4">mg</text>
<text transform="translate(572.5,517.14) scale(0.47,1)" text-anchor="end" font-size="27.5" font-weight="normal" fill="rgb(44,36,72)" stroke="rgb(44,36,72)" stroke-width="0.15" letter-spacing="3.4">mg</text>
<text transform="translate(593.67,517.14) scale(0.522,1)" text-anchor="start" font-size="29.2" font-weight="normal" fill="rgb(44,36,72)" stroke="rgb(44,36,72)" stroke-width="0.12">0,80</text>
<text transform="translate(593.82,517.14) scale(0.522,1)" text-anchor="start" font-size="29.2" font-weight="normal" fill="rgb(44,36,72)" stroke="rgb(44,36,72)" stroke-width="0.12">0,80</text>
<polygon fill="rgb(44,36,72)" points="656.86,497.34 658.81,497.34 658.81,517.14 657.06,517.14 657.06,500.54 655.26,501.34 654.76,499.74"/>
<text transform="translate(660.26,517.14) scale(0.522,1)" text-anchor="start" font-size="29.2" font-weight="normal" fill="rgb(44,36,72)" stroke="rgb(44,36,72)" stroke-width="0.12">3</text>
<text transform="translate(660.41,517.14) scale(0.522,1)" text-anchor="start" font-size="29.2" font-weight="normal" fill="rgb(44,36,72)" stroke="rgb(44,36,72)" stroke-width="0.12">3</text>
<text transform="translate(704.41,517.14) scale(0.522,1)" text-anchor="start" font-size="29.2" font-weight="normal" fill="rgb(44,36,72)" stroke="rgb(44,36,72)" stroke-width="0.12">2,4</text>
<text transform="translate(704.56,517.14) scale(0.522,1)" text-anchor="start" font-size="29.2" font-weight="normal" fill="rgb(44,36,72)" stroke="rgb(44,36,72)" stroke-width="0.12">2,4</text>
<text transform="translate(758.52,517.14) scale(0.522,1)" text-anchor="start" font-size="29.2" font-weight="normal" fill="rgb(44,36,72)" stroke="rgb(44,36,72)" stroke-width="0.12">40</text>
<text transform="translate(758.67,517.14) scale(0.522,1)" text-anchor="start" font-size="29.2" font-weight="normal" fill="rgb(44,36,72)" stroke="rgb(44,36,72)" stroke-width="0.12">40</text>
<text transform="translate(407,543.11) scale(0.4773,1)" text-anchor="start" font-size="27.5" font-weight="normal" fill="rgb(44,36,72)" stroke="rgb(44,36,72)" stroke-width="0.15" letter-spacing="2.7">Calcio / Cálcio</text>
<text transform="translate(407.1,543.11) scale(0.4773,1)" text-anchor="start" font-size="27.5" font-weight="normal" fill="rgb(44,36,72)" stroke="rgb(44,36,72)" stroke-width="0.15" letter-spacing="2.7">Calcio / Cálcio</text>
<text transform="translate(572.4,543.11) scale(0.47,1)" text-anchor="end" font-size="27.5" font-weight="normal" fill="rgb(44,36,72)" stroke="rgb(44,36,72)" stroke-width="0.15" letter-spacing="3.4">mg</text>
<text transform="translate(572.5,543.11) scale(0.47,1)" text-anchor="end" font-size="27.5" font-weight="normal" fill="rgb(44,36,72)" stroke="rgb(44,36,72)" stroke-width="0.15" letter-spacing="3.4">mg</text>
<text transform="translate(600.02,543.11) scale(0.522,1)" text-anchor="start" font-size="29.2" font-weight="normal" fill="rgb(44,36,72)" stroke="rgb(44,36,72)" stroke-width="0.12">90</text>
<text transform="translate(600.17,543.11) scale(0.522,1)" text-anchor="start" font-size="29.2" font-weight="normal" fill="rgb(44,36,72)" stroke="rgb(44,36,72)" stroke-width="0.12">90</text>
<polygon fill="rgb(44,36,72)" points="658.10,523.31 660.05,523.31 660.05,543.11 658.30,543.11 658.30,526.51 656.50,527.31 656.00,525.71"/>
<polygon fill="rgb(44,36,72)" points="664.10,523.31 666.05,523.31 666.05,543.11 664.30,543.11 664.30,526.51 662.50,527.31 662.00,525.71"/>
<text transform="translate(702.28,543.11) scale(0.522,1)" text-anchor="start" font-size="29.2" font-weight="normal" fill="rgb(44,36,72)" stroke="rgb(44,36,72)" stroke-width="0.12">270</text>
<text transform="translate(702.43,543.11) scale(0.522,1)" text-anchor="start" font-size="29.2" font-weight="normal" fill="rgb(44,36,72)" stroke="rgb(44,36,72)" stroke-width="0.12">270</text>
<text transform="translate(758.52,543.11) scale(0.522,1)" text-anchor="start" font-size="29.2" font-weight="normal" fill="rgb(44,36,72)" stroke="rgb(44,36,72)" stroke-width="0.12">34</text>
<text transform="translate(758.67,543.11) scale(0.522,1)" text-anchor="start" font-size="29.2" font-weight="normal" fill="rgb(44,36,72)" stroke="rgb(44,36,72)" stroke-width="0.12">34</text>
<text transform="translate(407,569.0799999999999) scale(0.486,1)" text-anchor="start" font-size="27.5" font-weight="normal" fill="rgb(44,36,72)" stroke="rgb(44,36,72)" stroke-width="0.15" letter-spacing="2.7">Fósforo</text>
<text transform="translate(407.1,569.0799999999999) scale(0.486,1)" text-anchor="start" font-size="27.5" font-weight="normal" fill="rgb(44,36,72)" stroke="rgb(44,36,72)" stroke-width="0.15" letter-spacing="2.7">Fósforo</text>
<text transform="translate(572.4,569.0799999999999) scale(0.47,1)" text-anchor="end" font-size="27.5" font-weight="normal" fill="rgb(44,36,72)" stroke="rgb(44,36,72)" stroke-width="0.15" letter-spacing="3.4">mg</text>
<text transform="translate(572.5,569.0799999999999) scale(0.47,1)" text-anchor="end" font-size="27.5" font-weight="normal" fill="rgb(44,36,72)" stroke="rgb(44,36,72)" stroke-width="0.15" letter-spacing="3.4">mg</text>
<text transform="translate(600.02,569.0799999999999) scale(0.522,1)" text-anchor="start" font-size="29.2" font-weight="normal" fill="rgb(44,36,72)" stroke="rgb(44,36,72)" stroke-width="0.12">70</text>
<text transform="translate(600.17,569.0799999999999) scale(0.522,1)" text-anchor="start" font-size="29.2" font-weight="normal" fill="rgb(44,36,72)" stroke="rgb(44,36,72)" stroke-width="0.12">70</text>
<polygon fill="rgb(44,36,72)" points="656.86,549.28 658.81,549.28 658.81,569.08 657.06,569.08 657.06,552.48 655.26,553.28 654.76,551.68"/>
<text transform="translate(660.26,569.0799999999999) scale(0.522,1)" text-anchor="start" font-size="29.2" font-weight="normal" fill="rgb(44,36,72)" stroke="rgb(44,36,72)" stroke-width="0.12">0</text>
<text transform="translate(660.41,569.0799999999999) scale(0.522,1)" text-anchor="start" font-size="29.2" font-weight="normal" fill="rgb(44,36,72)" stroke="rgb(44,36,72)" stroke-width="0.12">0</text>
<text transform="translate(703.52,569.0799999999999) scale(0.522,1)" text-anchor="start" font-size="29.2" font-weight="normal" fill="rgb(44,36,72)" stroke="rgb(44,36,72)" stroke-width="0.12">2</text>
<text transform="translate(703.67,569.0799999999999) scale(0.522,1)" text-anchor="start" font-size="29.2" font-weight="normal" fill="rgb(44,36,72)" stroke="rgb(44,36,72)" stroke-width="0.12">2</text>
<polygon fill="rgb(44,36,72)" points="714.60,549.28 716.55,549.28 716.55,569.08 714.80,569.08 714.80,552.48 713.00,553.28 712.50,551.68"/>
<text transform="translate(718.0,569.0799999999999) scale(0.522,1)" text-anchor="start" font-size="29.2" font-weight="normal" fill="rgb(44,36,72)" stroke="rgb(44,36,72)" stroke-width="0.12">0</text>
<text transform="translate(718.15,569.0799999999999) scale(0.522,1)" text-anchor="start" font-size="29.2" font-weight="normal" fill="rgb(44,36,72)" stroke="rgb(44,36,72)" stroke-width="0.12">0</text>
<text transform="translate(758.52,569.0799999999999) scale(0.522,1)" text-anchor="start" font-size="29.2" font-weight="normal" fill="rgb(44,36,72)" stroke="rgb(44,36,72)" stroke-width="0.12">30</text>
<text transform="translate(758.67,569.0799999999999) scale(0.522,1)" text-anchor="start" font-size="29.2" font-weight="normal" fill="rgb(44,36,72)" stroke="rgb(44,36,72)" stroke-width="0.12">30</text>
<text transform="translate(407,595.05) scale(0.486,1)" text-anchor="start" font-size="27.5" font-weight="normal" fill="rgb(44,36,72)" stroke="rgb(44,36,72)" stroke-width="0.15" letter-spacing="2.7">Hierro / Ferro</text>
<text transform="translate(407.1,595.05) scale(0.486,1)" text-anchor="start" font-size="27.5" font-weight="normal" fill="rgb(44,36,72)" stroke="rgb(44,36,72)" stroke-width="0.15" letter-spacing="2.7">Hierro / Ferro</text>
<text transform="translate(572.4,595.05) scale(0.47,1)" text-anchor="end" font-size="27.5" font-weight="normal" fill="rgb(44,36,72)" stroke="rgb(44,36,72)" stroke-width="0.15" letter-spacing="3.4">mg</text>
<text transform="translate(572.5,595.05) scale(0.47,1)" text-anchor="end" font-size="27.5" font-weight="normal" fill="rgb(44,36,72)" stroke="rgb(44,36,72)" stroke-width="0.15" letter-spacing="3.4">mg</text>
<text transform="translate(593.67,595.05) scale(0.522,1)" text-anchor="start" font-size="29.2" font-weight="normal" fill="rgb(44,36,72)" stroke="rgb(44,36,72)" stroke-width="0.12">0,80</text>
<text transform="translate(593.82,595.05) scale(0.522,1)" text-anchor="start" font-size="29.2" font-weight="normal" fill="rgb(44,36,72)" stroke="rgb(44,36,72)" stroke-width="0.12">0,80</text>
<text transform="translate(657.26,595.05) scale(0.522,1)" text-anchor="start" font-size="29.2" font-weight="normal" fill="rgb(44,36,72)" stroke="rgb(44,36,72)" stroke-width="0.12">6</text>
<text transform="translate(657.41,595.05) scale(0.522,1)" text-anchor="start" font-size="29.2" font-weight="normal" fill="rgb(44,36,72)" stroke="rgb(44,36,72)" stroke-width="0.12">6</text>
<text transform="translate(704.41,595.05) scale(0.522,1)" text-anchor="start" font-size="29.2" font-weight="normal" fill="rgb(44,36,72)" stroke="rgb(44,36,72)" stroke-width="0.12">2,4</text>
<text transform="translate(704.56,595.05) scale(0.522,1)" text-anchor="start" font-size="29.2" font-weight="normal" fill="rgb(44,36,72)" stroke="rgb(44,36,72)" stroke-width="0.12">2,4</text>
<polygon fill="rgb(44,36,72)" points="762.36,575.25 764.31,575.25 764.31,595.05 762.56,595.05 762.56,578.45 760.76,579.25 760.26,577.65"/>
<text transform="translate(765.76,595.05) scale(0.522,1)" text-anchor="start" font-size="29.2" font-weight="normal" fill="rgb(44,36,72)" stroke="rgb(44,36,72)" stroke-width="0.12">7</text>
<text transform="translate(765.91,595.05) scale(0.522,1)" text-anchor="start" font-size="29.2" font-weight="normal" fill="rgb(44,36,72)" stroke="rgb(44,36,72)" stroke-width="0.12">7</text>
<text transform="translate(407,621.02) scale(0.486,1)" text-anchor="start" font-size="27.5" font-weight="normal" fill="rgb(44,36,72)" stroke="rgb(44,36,72)" stroke-width="0.15" letter-spacing="2.7">Yodo / Iodo</text>
<text transform="translate(407.1,621.02) scale(0.486,1)" text-anchor="start" font-size="27.5" font-weight="normal" fill="rgb(44,36,72)" stroke="rgb(44,36,72)" stroke-width="0.15" letter-spacing="2.7">Yodo / Iodo</text>
<text transform="translate(572.4,621.02) scale(0.47,1)" text-anchor="end" font-size="27.5" font-weight="normal" fill="rgb(44,36,72)" stroke="rgb(44,36,72)" stroke-width="0.15" letter-spacing="3.4">µg</text>
<text transform="translate(572.5,621.02) scale(0.47,1)" text-anchor="end" font-size="27.5" font-weight="normal" fill="rgb(44,36,72)" stroke="rgb(44,36,72)" stroke-width="0.15" letter-spacing="3.4">µg</text>
<polygon fill="rgb(44,36,72)" points="603.86,601.22 605.81,601.22 605.81,621.02 604.06,621.02 604.06,604.42 602.26,605.22 601.76,603.62"/>
<text transform="translate(607.26,621.02) scale(0.522,1)" text-anchor="start" font-size="29.2" font-weight="normal" fill="rgb(44,36,72)" stroke="rgb(44,36,72)" stroke-width="0.12">8</text>
<text transform="translate(607.41,621.02) scale(0.522,1)" text-anchor="start" font-size="29.2" font-weight="normal" fill="rgb(44,36,72)" stroke="rgb(44,36,72)" stroke-width="0.12">8</text>
<polygon fill="rgb(44,36,72)" points="656.86,601.22 658.81,601.22 658.81,621.02 657.06,621.02 657.06,604.42 655.26,605.22 654.76,603.62"/>
<text transform="translate(660.26,621.02) scale(0.522,1)" text-anchor="start" font-size="29.2" font-weight="normal" fill="rgb(44,36,72)" stroke="rgb(44,36,72)" stroke-width="0.12">2</text>
<text transform="translate(660.41,621.02) scale(0.522,1)" text-anchor="start" font-size="29.2" font-weight="normal" fill="rgb(44,36,72)" stroke="rgb(44,36,72)" stroke-width="0.12">2</text>
<text transform="translate(706.52,621.02) scale(0.522,1)" text-anchor="start" font-size="29.2" font-weight="normal" fill="rgb(44,36,72)" stroke="rgb(44,36,72)" stroke-width="0.12">54</text>
<text transform="translate(706.67,621.02) scale(0.522,1)" text-anchor="start" font-size="29.2" font-weight="normal" fill="rgb(44,36,72)" stroke="rgb(44,36,72)" stroke-width="0.12">54</text>
<text transform="translate(758.52,621.02) scale(0.522,1)" text-anchor="start" font-size="29.2" font-weight="normal" fill="rgb(44,36,72)" stroke="rgb(44,36,72)" stroke-width="0.12">36</text>
<text transform="translate(758.67,621.02) scale(0.522,1)" text-anchor="start" font-size="29.2" font-weight="normal" fill="rgb(44,36,72)" stroke="rgb(44,36,72)" stroke-width="0.12">36</text>
<g stroke="rgb(44,36,72)" stroke-width="1.45"><line x1="411.40" y1="634.60" x2="411.40" y2="644.40"/><line x1="407.16" y1="637.05" x2="415.64" y2="641.95"/><line x1="407.16" y1="641.95" x2="415.64" y2="637.05"/></g>
<text transform="translate(423,655) scale(0.457,1)" text-anchor="start" font-size="27.5" font-weight="normal" fill="rgb(44,36,72)" stroke="rgb(44,36,72)" stroke-width="0.15" letter-spacing="3.4">VRN = Valores de Referencia de Nutrientes /</text>
<text transform="translate(423.1,655) scale(0.457,1)" text-anchor="start" font-size="27.5" font-weight="normal" fill="rgb(44,36,72)" stroke="rgb(44,36,72)" stroke-width="0.15" letter-spacing="3.4">VRN = Valores de Referencia de Nutrientes /</text>
<text transform="translate(423.5,676.8) scale(0.462,1)" text-anchor="start" font-size="27.5" font-weight="normal" fill="rgb(44,36,72)" stroke="rgb(44,36,72)" stroke-width="0.15" letter-spacing="3.4">Valores de Referência do Nutriente</text>
<text transform="translate(423.6,676.8) scale(0.462,1)" text-anchor="start" font-size="27.5" font-weight="normal" fill="rgb(44,36,72)" stroke="rgb(44,36,72)" stroke-width="0.15" letter-spacing="3.4">Valores de Referência do Nutriente</text>
</svg>
</body></html>
